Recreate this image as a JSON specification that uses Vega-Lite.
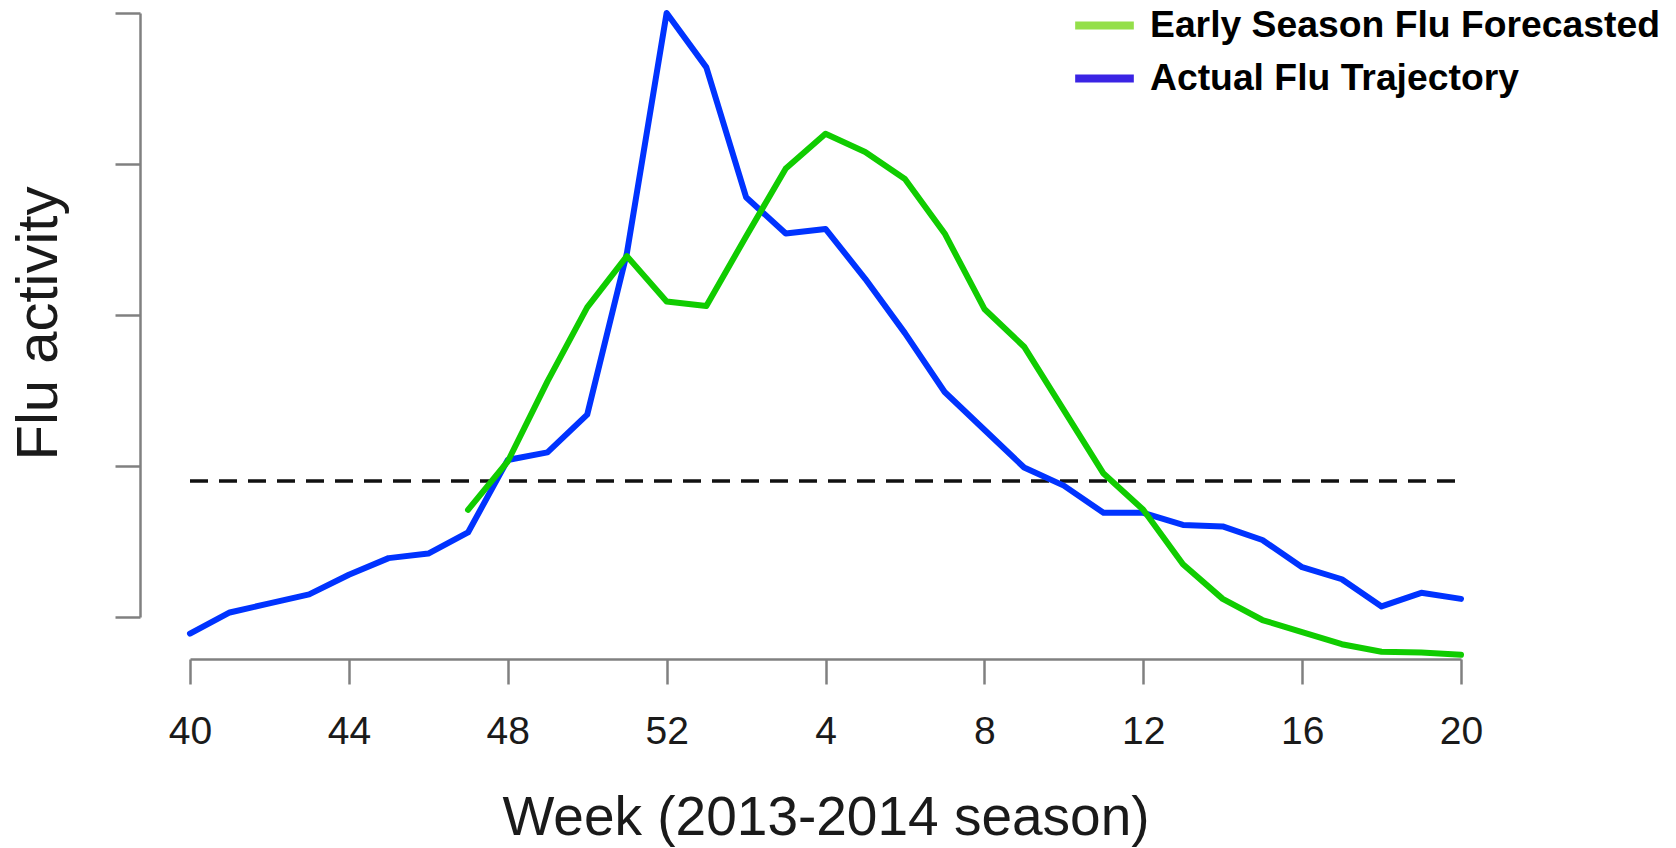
{
  "$schema": "https://vega.github.io/schema/vega-lite/v6.json",
  "autosize": {"type": "none"},
  "padding": {"left": 190, "top": 13, "right": 215, "bottom": 231},
  "width": 1271,
  "height": 604,
  "background": "white",
  "config": {
    "view": {"stroke": null},
    "font": "Liberation Sans"
  },
  "datasets": {
    "flu": [
      {"idx": 0, "week": 40, "series": "Actual Flu Trajectory", "value": 0.89},
      {"idx": 1, "week": 41, "series": "Actual Flu Trajectory", "value": 1.03},
      {"idx": 2, "week": 42, "series": "Actual Flu Trajectory", "value": 1.09},
      {"idx": 3, "week": 43, "series": "Actual Flu Trajectory", "value": 1.15},
      {"idx": 4, "week": 44, "series": "Actual Flu Trajectory", "value": 1.28},
      {"idx": 5, "week": 45, "series": "Actual Flu Trajectory", "value": 1.39},
      {"idx": 6, "week": 46, "series": "Actual Flu Trajectory", "value": 1.42},
      {"idx": 7, "week": 47, "series": "Actual Flu Trajectory", "value": 1.56},
      {"idx": 8, "week": 48, "series": "Actual Flu Trajectory", "value": 2.04},
      {"idx": 9, "week": 49, "series": "Actual Flu Trajectory", "value": 2.09},
      {"idx": 10, "week": 50, "series": "Actual Flu Trajectory", "value": 2.34},
      {"idx": 11, "week": 51, "series": "Actual Flu Trajectory", "value": 3.41},
      {"idx": 12, "week": 52, "series": "Actual Flu Trajectory", "value": 5.0},
      {"idx": 13, "week": 1, "series": "Actual Flu Trajectory", "value": 4.64},
      {"idx": 14, "week": 2, "series": "Actual Flu Trajectory", "value": 3.78},
      {"idx": 15, "week": 3, "series": "Actual Flu Trajectory", "value": 3.54},
      {"idx": 16, "week": 4, "series": "Actual Flu Trajectory", "value": 3.57},
      {"idx": 17, "week": 5, "series": "Actual Flu Trajectory", "value": 3.24},
      {"idx": 18, "week": 6, "series": "Actual Flu Trajectory", "value": 2.88},
      {"idx": 19, "week": 7, "series": "Actual Flu Trajectory", "value": 2.49},
      {"idx": 20, "week": 8, "series": "Actual Flu Trajectory", "value": 2.24},
      {"idx": 21, "week": 9, "series": "Actual Flu Trajectory", "value": 1.99},
      {"idx": 22, "week": 10, "series": "Actual Flu Trajectory", "value": 1.87},
      {"idx": 23, "week": 11, "series": "Actual Flu Trajectory", "value": 1.69},
      {"idx": 24, "week": 12, "series": "Actual Flu Trajectory", "value": 1.69},
      {"idx": 25, "week": 13, "series": "Actual Flu Trajectory", "value": 1.61},
      {"idx": 26, "week": 14, "series": "Actual Flu Trajectory", "value": 1.6},
      {"idx": 27, "week": 15, "series": "Actual Flu Trajectory", "value": 1.51},
      {"idx": 28, "week": 16, "series": "Actual Flu Trajectory", "value": 1.33},
      {"idx": 29, "week": 17, "series": "Actual Flu Trajectory", "value": 1.25},
      {"idx": 30, "week": 18, "series": "Actual Flu Trajectory", "value": 1.07},
      {"idx": 31, "week": 19, "series": "Actual Flu Trajectory", "value": 1.16},
      {"idx": 32, "week": 20, "series": "Actual Flu Trajectory", "value": 1.12},
      {"idx": 7, "week": 47, "series": "Early Season Flu Forecasted", "value": 1.71},
      {"idx": 8, "week": 48, "series": "Early Season Flu Forecasted", "value": 2.03},
      {"idx": 9, "week": 49, "series": "Early Season Flu Forecasted", "value": 2.56},
      {"idx": 10, "week": 50, "series": "Early Season Flu Forecasted", "value": 3.05},
      {"idx": 11, "week": 51, "series": "Early Season Flu Forecasted", "value": 3.39},
      {"idx": 12, "week": 52, "series": "Early Season Flu Forecasted", "value": 3.09},
      {"idx": 13, "week": 1, "series": "Early Season Flu Forecasted", "value": 3.06},
      {"idx": 14, "week": 2, "series": "Early Season Flu Forecasted", "value": 3.52},
      {"idx": 15, "week": 3, "series": "Early Season Flu Forecasted", "value": 3.97},
      {"idx": 16, "week": 4, "series": "Early Season Flu Forecasted", "value": 4.2},
      {"idx": 17, "week": 5, "series": "Early Season Flu Forecasted", "value": 4.08},
      {"idx": 18, "week": 6, "series": "Early Season Flu Forecasted", "value": 3.9},
      {"idx": 19, "week": 7, "series": "Early Season Flu Forecasted", "value": 3.54},
      {"idx": 20, "week": 8, "series": "Early Season Flu Forecasted", "value": 3.04},
      {"idx": 21, "week": 9, "series": "Early Season Flu Forecasted", "value": 2.79},
      {"idx": 22, "week": 10, "series": "Early Season Flu Forecasted", "value": 2.37},
      {"idx": 23, "week": 11, "series": "Early Season Flu Forecasted", "value": 1.95},
      {"idx": 24, "week": 12, "series": "Early Season Flu Forecasted", "value": 1.71},
      {"idx": 25, "week": 13, "series": "Early Season Flu Forecasted", "value": 1.35},
      {"idx": 26, "week": 14, "series": "Early Season Flu Forecasted", "value": 1.12},
      {"idx": 27, "week": 15, "series": "Early Season Flu Forecasted", "value": 0.98},
      {"idx": 28, "week": 16, "series": "Early Season Flu Forecasted", "value": 0.9},
      {"idx": 29, "week": 17, "series": "Early Season Flu Forecasted", "value": 0.82},
      {"idx": 30, "week": 18, "series": "Early Season Flu Forecasted", "value": 0.77},
      {"idx": 31, "week": 19, "series": "Early Season Flu Forecasted", "value": 0.765},
      {"idx": 32, "week": 20, "series": "Early Season Flu Forecasted", "value": 0.75}
    ],
    "threshold": [
      {"start": 0, "end": 32, "baseline": 1.9}
    ]
  },
  "layer": [
    {
      "data": {"name": "threshold"},
      "mark": {"type": "rule", "color": "#111111", "strokeWidth": 3.5, "strokeDash": [18, 11], "strokeCap": "butt"},
      "encoding": {
        "x": {"field": "start", "type": "quantitative", "scale": {"domain": [0, 32], "nice": false, "zero": false}},
        "x2": {"field": "end"},
        "y": {"field": "baseline", "type": "quantitative", "scale": {"domain": [1, 5], "nice": false, "zero": false}}
      }
    },
    {
      "data": {"name": "flu"},
      "mark": {"type": "line", "opacity": 0, "strokeWidth": 1},
      "encoding": {
        "x": {"field": "idx", "type": "quantitative"},
        "y": {"field": "value", "type": "quantitative"},
        "color": {
          "field": "series", "type": "nominal",
          "scale": {"domain": ["Early Season Flu Forecasted", "Actual Flu Trajectory"], "range": ["#94DF4A", "#3A24E4"]},
          "legend": {
            "title": null,
            "orient": "none",
            "legendX": 881,
            "legendY": -21,
            "padding": 0,
            "symbolType": "stroke",
            "symbolSize": 3440,
            "symbolStrokeWidth": 8,
            "symbolOpacity": 1,
            "labelFont": "Liberation Sans",
            "labelFontSize": 37.3,
            "labelFontWeight": "bold",
            "labelColor": "#000000",
            "labelLimit": 700,
            "labelOffset": 12,
            "rowPadding": 1
          }
        },
        "order": {"field": "idx", "type": "quantitative"}
      }
    },
    {
      "data": {"name": "flu"},
      "mark": {"type": "line", "strokeWidth": 6, "strokeCap": "round", "strokeJoin": "round"},
      "encoding": {
        "x": {
          "field": "idx", "type": "quantitative",
          "scale": {"domain": [0, 32], "nice": false, "zero": false},
          "axis": {
            "title": "Week (2013-2014 season)",
            "values": [0, 4, 8, 12, 16, 20, 24, 28, 32],
            "labelExpr": "datum.value <= 12 ? '' + (datum.value + 40) : '' + (datum.value - 12)",
            "grid": false,
            "offset": 42,
            "domainColor": "#808080", "domainWidth": 2.5,
            "tickColor": "#808080", "tickWidth": 2.5, "tickSize": 25,
            "labelFont": "Liberation Sans", "labelFontSize": 39, "labelColor": "#1a1a1a",
            "labelPadding": 28, "labelFlush": false, "labelOverlap": false,
            "titleFont": "Liberation Sans", "titleFontSize": 55, "titleFontWeight": "normal", "titleColor": "#1a1a1a",
            "titlePadding": 40
          }
        },
        "y": {
          "field": "value", "type": "quantitative",
          "scale": {"domain": [1, 5], "nice": false, "zero": false},
          "axis": {
            "title": "Flu activity",
            "values": [1, 2, 3, 4, 5],
            "labels": false,
            "grid": false,
            "offset": 50,
            "domainColor": "#808080", "domainWidth": 2.5,
            "tickColor": "#808080", "tickWidth": 2.5, "tickSize": 25,
            "titleFont": "Liberation Sans", "titleFontSize": 58, "titleFontWeight": "normal", "titleColor": "#1a1a1a",
            "titlePadding": 45, "titleY": 310
          }
        },
        "stroke": {
          "field": "series", "type": "nominal",
          "scale": {"domain": ["Early Season Flu Forecasted", "Actual Flu Trajectory"], "range": ["#10CC00", "#0033FF"]},
          "legend": null
        },
        "order": {"field": "idx", "type": "quantitative"}
      }
    }
  ]
}
